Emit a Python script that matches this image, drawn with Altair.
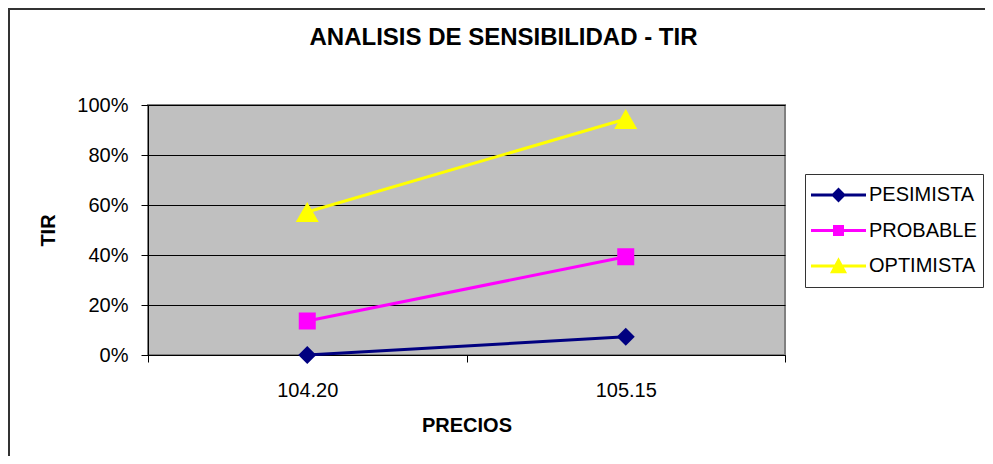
import altair as alt
import pandas as pd

# ---- data ----
chart_title = "ANALISIS DE SENSIBILIDAD - TIR"
precios = ["104.20", "105.15"]
series = ["PESIMISTA", "PROBABLE", "OPTIMISTA"]
pesimista = [0.0, 0.073]
probable = [0.136, 0.393]
optimista = [0.572, 0.944]
colors = ["#000080", "#FF00FF", "#FFFF00"]
marker_shapes = ["diamond", "square", "triangle-up"]
marker_sizes = [324, 289, 529]
y_ticks = [0, 0.2, 0.4, 0.6, 0.8, 1.0]

rows = []
for name, vals in zip(series, [pesimista, probable, optimista]):
    for p, v in zip(precios, vals):
        rows.append({"precio": p, "serie": name, "tir": v})
df = pd.DataFrame(rows)

FONT = "Liberation Sans"

# legend symbols: a line with the marker on it
legend_paths = [
    "M-1,-0.055H1V0.055H-1Z M0,-0.27L0.27,0L0,0.27L-0.27,0Z",
    "M-1,-0.055H1V0.055H-1Z M-0.2,-0.2H0.2V0.2H-0.2Z",
    "M-1,-0.055H1V0.055H-1Z M0,-0.32L0.31,0.26L-0.31,0.26Z",
]

x_enc = alt.X(
    "precio:N",
    sort=precios,
    scale=alt.Scale(type="band", domain=precios, paddingInner=0, paddingOuter=0),
    axis=alt.Axis(
        title="PRECIOS", labelAngle=0, tickBand="extent", grid=False,
        labelFont=FONT, labelFontSize=20, labelPadding=18, labelColor="black",
        titleFont=FONT, titleFontSize=20, titleFontWeight="bold", titleColor="black",
        titleY=70, titleBaseline="middle",
    ),
)
y_enc = alt.Y(
    "tir:Q",
    scale=alt.Scale(domain=[0, 1], nice=False),
    axis=alt.Axis(
        title="TIR", values=y_ticks, format=".0%", grid=True,
        labelFont=FONT, labelFontSize=20, labelPadding=13, labelColor="black",
        titleFont=FONT, titleFontSize=20, titleFontWeight="bold", titleColor="black",
        titleX=-100, titleY=125, titleAngle=270, titleBaseline="middle",
    ),
)
color_scale = alt.Scale(domain=series, range=colors)

lines = alt.Chart(df).mark_line(strokeWidth=3).encode(
    x=x_enc, y=y_enc,
    color=alt.Color("serie:N", scale=color_scale, legend=None),
    detail="serie:N",
)

marker_layers = []
for name, shp, sz in zip(series, marker_shapes, marker_sizes):
    marker_layers.append(
        alt.Chart(df).transform_filter(alt.datum.serie == name)
        .mark_point(filled=True, shape=shp, size=sz, opacity=1)
        .encode(x=x_enc, y=y_enc,
                color=alt.Color("serie:N", scale=color_scale, legend=None))
    )

legend_props = dict(
    orient="none", legendX=657, legendY=69, title=None,
    labelFont=FONT, labelFontSize=20, labelColor="black", labelOffset=3,
    padding=6, rowPadding=5.5, clipHeight=30,
    strokeColor="#333333", fillColor="white",
    symbolSize=3025, symbolStrokeWidth=0, symbolOpacity=1,
)
legend_layer = alt.Chart(df).mark_point(filled=True, opacity=0, size=3025).encode(
    x=x_enc, y=y_enc,
    color=alt.Color("serie:N", scale=color_scale, legend=alt.Legend(**legend_props)),
    shape=alt.Shape("serie:N", scale=alt.Scale(domain=series, range=legend_paths),
                    legend=alt.Legend(**legend_props)),
)

border = alt.Chart(alt.Data(values=[{}])).mark_rect(
    fill="transparent", stroke="#333333", strokeWidth=2
).encode(
    x=alt.value(-139), y=alt.value(-96), x2=alt.value(1000), y2=alt.value(600)
)

title_mark = alt.Chart(alt.Data(values=[{"t": chart_title}])).mark_text(
    font=FONT, fontSize=24, fontWeight="bold", color="black",
    align="center", baseline="alphabetic",
).encode(text="t:N", x=alt.value(355.5), y=alt.value(-60))

chart = alt.layer(border, title_mark, lines, *marker_layers, legend_layer).resolve_legend(
    color="independent", shape="independent"
).properties(
    width=637, height=250,
    autosize=alt.AutoSizeParams(type="none"),
    padding={"left": 140, "top": 97, "right": 200, "bottom": 101},
    background="white",
).configure_view(
    fill="#C0C0C0", stroke="#808080", strokeWidth=2
).configure_axis(
    domainColor="black", domainWidth=1, tickColor="black", tickSize=7, tickWidth=1,
    gridColor="black", gridWidth=1,
)

chart.save("out.html", embed_options={"renderer": "svg", "actions": False})
